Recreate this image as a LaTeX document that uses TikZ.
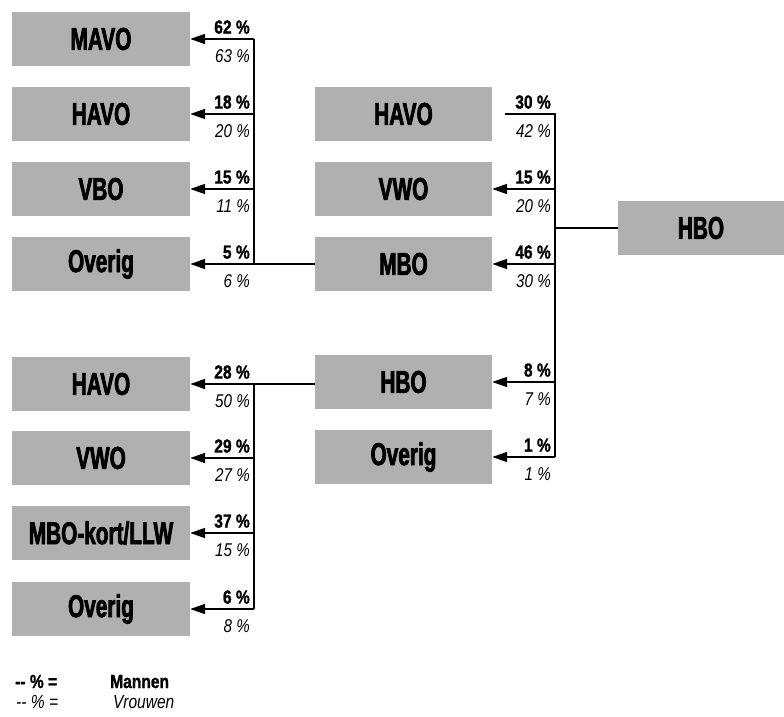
\documentclass[tikz,border=0pt]{standalone}
\usepackage{fontspec}
\setmainfont{Liberation Sans}
\newfontfamily\boxfont[FakeStretch=0.66,FakeBold=2.2]{Liberation Sans Bold}
\newfontfamily\pctfont[FakeStretch=0.82]{Liberation Sans}
\newfontfamily\pctbold[FakeStretch=0.82,FakeBold=1.2]{Liberation Sans Bold}
\usetikzlibrary{arrows.meta}
\definecolor{boxgray}{gray}{0.69}
\tikzset{
  box/.style={fill=boxgray, minimum width=178pt, minimum height=54pt, inner sep=0pt,
    font=\boxfont\fontsize{31.5}{31.5}\selectfont},
  ln/.style={line width=1.8pt},
  arr/.style={line width=1.8pt, -{Triangle[length=15pt,width=10pt]}},
  mpct/.style={anchor=south east, inner sep=1pt, font=\pctbold\fontsize{19}{19}\selectfont},
  vpct/.style={anchor=north east, inner sep=1pt, font=\pctfont\itshape\fontsize{18.5}{18.5}\selectfont},
  legm/.style={anchor=base west, inner sep=0pt, font=\pctbold\fontsize{19}{19}\selectfont},
  legv/.style={anchor=base west, inner sep=0pt, font=\pctfont\itshape\fontsize{19}{19}\selectfont}
}
\begin{document}
\begin{tikzpicture}[x=1pt,y=-1pt]
\useasboundingbox (0,0) rectangle (784,717);
% left top column
\node[box] (mavo) at (101,39) {MAVO};
\node[box] (havoA) at (101,114) {HAVO};
\node[box] (vbo) at (101,189) {VBO};
\node[box] (overA) at (101,264) {Overig};
% middle column
\node[box, minimum width=177pt] (havoM) at (403.5,114) {HAVO};
\node[box, minimum width=177pt] (vwoM) at (403.5,189) {VWO};
\node[box, minimum width=177pt] (mboM) at (403.5,264) {MBO};
\node[box, minimum width=177pt] (hboM) at (403.5,382) {HBO};
\node[box, minimum width=177pt] (overM) at (403.5,457) {Overig};
% right
\node[box, minimum width=166pt] (hboR) at (701,228) {HBO};
% left bottom column
\node[box] (havoB) at (101,384) {HAVO};
\node[box] (vwoB) at (101,458) {VWO};
\node[box] (mbok) at (101,533) {MBO-kort/LLW};
\node[box] (overB) at (101,609) {Overig};

% bracket coordinates
\coordinate (bA1) at (254,39);
\coordinate (bA2) at (254,114);
\coordinate (bA3) at (254,189);
\coordinate (bA4) at (254,264);
\coordinate (bM0) at (505,114);
\coordinate (bM1) at (555,114);
\coordinate (bM2) at (555,189);
\coordinate (bM3) at (555,264);
\coordinate (bMc) at (555,228);
\coordinate (bM4) at (555,382);
\coordinate (bM5) at (555,457);
\coordinate (bB1) at (254,384);
\coordinate (bB2) at (254,458);
\coordinate (bB3) at (254,533);
\coordinate (bB4) at (254,609);

% connectors right -> middle
\draw[ln] (hboR.west |- bMc) -- (bMc);
\draw[ln] (bM0) -- (bM1) -- (bM5);
\draw[arr] (bM2) -- (vwoM.east |- bM2);
\draw[arr] (bM3) -- (mboM.east |- bM3);
\draw[arr] (bM4) -- (hboM.east |- bM4);
\draw[arr] (bM5) -- (overM.east |- bM5);

% middle MBO -> left top
\draw[ln] (mboM.west |- bA4) -- (bA4) -- (bA1);
\draw[arr] (bA1) -- (mavo.east |- bA1);
\draw[arr] (bA2) -- (havoA.east |- bA2);
\draw[arr] (bA3) -- (vbo.east |- bA3);
\draw[arr] (bA4) -- (overA.east |- bA4);

% middle HBO -> left bottom
\draw[ln] (hboM.west |- bB1) -- (bB1) -- (bB4);
\draw[arr] (bB1) -- (havoB.east |- bB1);
\draw[arr] (bB2) -- (vwoB.east |- bB2);
\draw[arr] (bB3) -- (mbok.east |- bB3);
\draw[arr] (bB4) -- (overB.east |- bB4);

% labels left top
\node[mpct] (mA1) at (251,35) {62 \%};
\node[vpct] (vA1) at (251,48) {63 \%};
\node[mpct] (mA2) at (251,110) {18 \%};
\node[vpct] (vA2) at (251,123) {20 \%};
\node[mpct] (mA3) at (251,185) {15 \%};
\node[vpct] (vA3) at (251,198) {11 \%};
\node[mpct] (mA4) at (251,260) {5 \%};
\node[vpct] (vA4) at (251,273) {6 \%};
% labels middle
\node[mpct] (mM1) at (552,110) {30 \%};
\node[vpct] (vM1) at (552,123) {42 \%};
\node[mpct] (mM2) at (552,185) {15 \%};
\node[vpct] (vM2) at (552,198) {20 \%};
\node[mpct] (mM3) at (552,260) {46 \%};
\node[vpct] (vM3) at (552,273) {30 \%};
\node[mpct] (mM4) at (552,378) {8 \%};
\node[vpct] (vM4) at (552,391) {7 \%};
\node[mpct] (mM5) at (552,453) {1 \%};
\node[vpct] (vM5) at (552,466) {1 \%};
% labels left bottom
\node[mpct] (mB1) at (251,380) {28 \%};
\node[vpct] (vB1) at (251,393) {50 \%};
\node[mpct] (mB2) at (251,454) {29 \%};
\node[vpct] (vB2) at (251,467) {27 \%};
\node[mpct] (mB3) at (251,529) {37 \%};
\node[vpct] (vB3) at (251,542) {15 \%};
\node[mpct] (mB4) at (251,605) {6 \%};
\node[vpct] (vB4) at (251,618) {8 \%};

% legend
\node[legm] (lg1) at (15,688) {-{}- \% =};
\node[legm] (lg2) at (110,688) {Mannen};
\node[legv] (lg3) at (16,708) {-{}- \% =};
\node[legv] (lg4) at (113,708) {Vrouwen};
\end{tikzpicture}
\end{document}
